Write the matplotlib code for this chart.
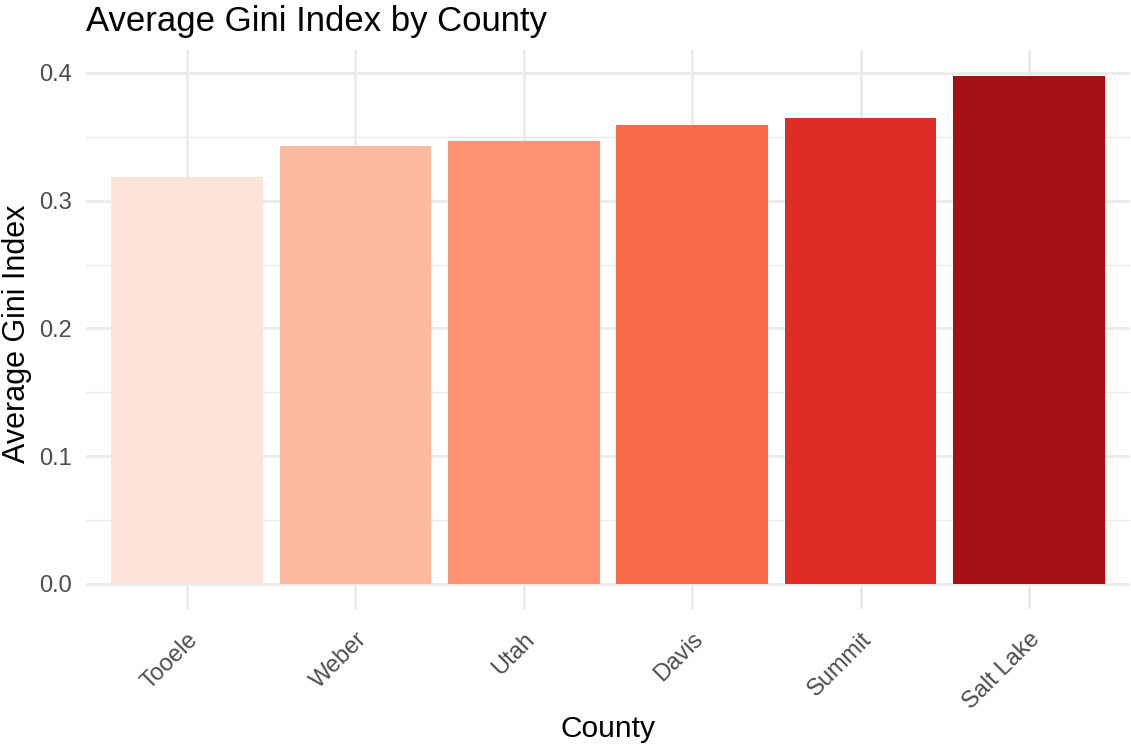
import matplotlib

matplotlib.use("Agg")
import matplotlib.pyplot as plt
from matplotlib.ticker import MultipleLocator

counties = ["Tooele", "Weber", "Utah", "Davis", "Summit", "Salt Lake"]
gini = [0.3186, 0.3429, 0.3468, 0.3593, 0.3648, 0.3977]
colors = ["#FEE5D9", "#FCBBA1", "#FC9272", "#FB6A4A", "#DE2D26", "#A50F15"]

plt.rcParams["font.family"] = ["Liberation Sans", "DejaVu Sans"]

W, H = 1131, 746
fig = plt.figure(figsize=(W / 100, H / 100), dpi=100)
ax = fig.add_axes([86 / W, 137 / H, 1044 / W, 559 / H])

pos = list(range(1, len(counties) + 1))
ax.bar(pos, gini, width=0.9, color=colors, zorder=2)

ax.set_xlim(0.4, len(counties) + 0.6)
ax.set_ylim(-0.0196, 0.418)
ax.set_xticks(pos)
ax.set_xticklabels(counties)
ax.yaxis.set_major_locator(MultipleLocator(0.1))
ax.yaxis.set_minor_locator(MultipleLocator(0.05))
ax.yaxis.set_major_formatter(lambda v, p: f"{v:.1f}")

ax.grid(which="major", color="#EBEBEB", linewidth=2.0, zorder=0)
ax.grid(which="minor", axis="y", color="#EBEBEB", linewidth=1.0, zorder=0)
ax.set_axisbelow(True)
for s in ax.spines.values():
    s.set_visible(False)
ax.tick_params(which="both", length=0)
ax.tick_params(axis="y", labelsize=17, labelcolor="#4D4D4D", pad=10)
ax.tick_params(axis="x", labelsize=17, labelcolor="#4D4D4D", pad=14)
for lbl in ax.get_xticklabels():
    lbl.set_rotation(45)
    lbl.set_ha("right")
    lbl.set_va("top")
    lbl.set_rotation_mode("anchor")

# axis titles placed in figure coords so they stay inside the canvas
fig.text(608 / W, 1 - 729 / H, "County", fontsize=21.5, ha="center", va="center")
fig.text(17 / W, 1 - 334 / H, "Average Gini Index", fontsize=22, rotation=90,
         ha="center", va="center")
fig.text(86 / W, 1 - 5 / H, "Average Gini Index by County", fontsize=25,
         ha="left", va="top")

fig.savefig("out.png", dpi=100)
